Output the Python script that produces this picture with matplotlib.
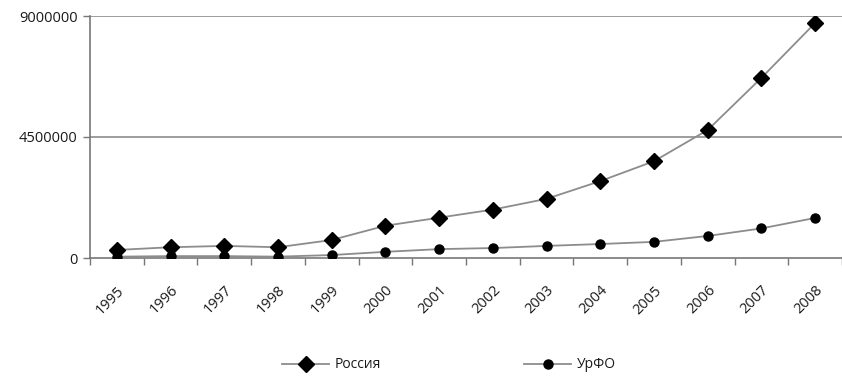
from matplotlib import pyplot as plt
import numpy as np

years = ["1995", "1996", "1997", "1998", "1999", "2000", "2001",
         "2002", "2003", "2004", "2005", "2006", "2007", "2008"]
russia = [300000, 400000, 450000, 400000, 670000, 1200000, 1500000,
          1800000, 2200000, 2860000, 3600000, 4760000, 6700000, 8740000]
urfo = [50000, 70000, 70000, 50000, 110000, 230000, 330000,
        370000, 450000, 520000, 600000, 820000, 1100000, 1490000]
y_ticks = [0, 4500000, 9000000]

plt.rcParams["font.family"] = ["Open Sans", "DejaVu Sans"]
plt.rcParams["font.size"] = 10.5
plt.rcParams["text.color"] = "#1a1a1a"
plt.rcParams["xtick.labelcolor"] = "#1a1a1a"
plt.rcParams["ytick.labelcolor"] = "#1a1a1a"

fig = plt.figure(figsize=(8.42, 3.76), dpi=100)
ax = fig.add_axes([90 / 842, 1 - 258 / 376, 752 / 842, 242 / 376])

x = np.arange(len(years))
line_color = "#8c8c8c"
ax.plot(x, russia, color=line_color, lw=1.3, marker="D", ms=8.5,
        mfc="black", mec="black", label="Россия", zorder=3)
ax.plot(x, urfo, color=line_color, lw=1.3, marker="o", ms=6.5,
        mfc="black", mec="black", label="УрФО", zorder=3)

ax.set_xlim(-0.5, len(years) - 0.5)
ax.set_ylim(0, 9000000)
ax.set_yticks(y_ticks)
ax.set_yticklabels([str(v) for v in y_ticks])
for v in y_ticks[1:]:
    ax.axhline(v, color="#8c8c8c", lw=1.2, zorder=1)

ax.set_xticks(x)
ax.set_xticklabels(years, rotation=45, ha="right", va="top",
                   rotation_mode="anchor")
ax.set_xticks(np.arange(-0.5, len(years)), minor=True)
ax.tick_params(axis="x", which="major", length=0, pad=18)
ax.tick_params(axis="x", which="minor", length=5, width=1, color="#777777",
               direction="out")
ax.tick_params(axis="y", length=5, width=1, color="#777777", pad=4)

for s in ["top", "right"]:
    ax.spines[s].set_visible(False)
for s in ["left", "bottom"]:
    ax.spines[s].set_color("#777777")
    ax.spines[s].set_linewidth(1.2)

fig.legend(loc="center", bbox_to_anchor=(449 / 842, 1 - 365 / 376),
           ncol=2, frameon=False, columnspacing=10.3, handlelength=3.4,
           handletextpad=0.4, fontsize=10)

fig.savefig("out.png", dpi=100)
